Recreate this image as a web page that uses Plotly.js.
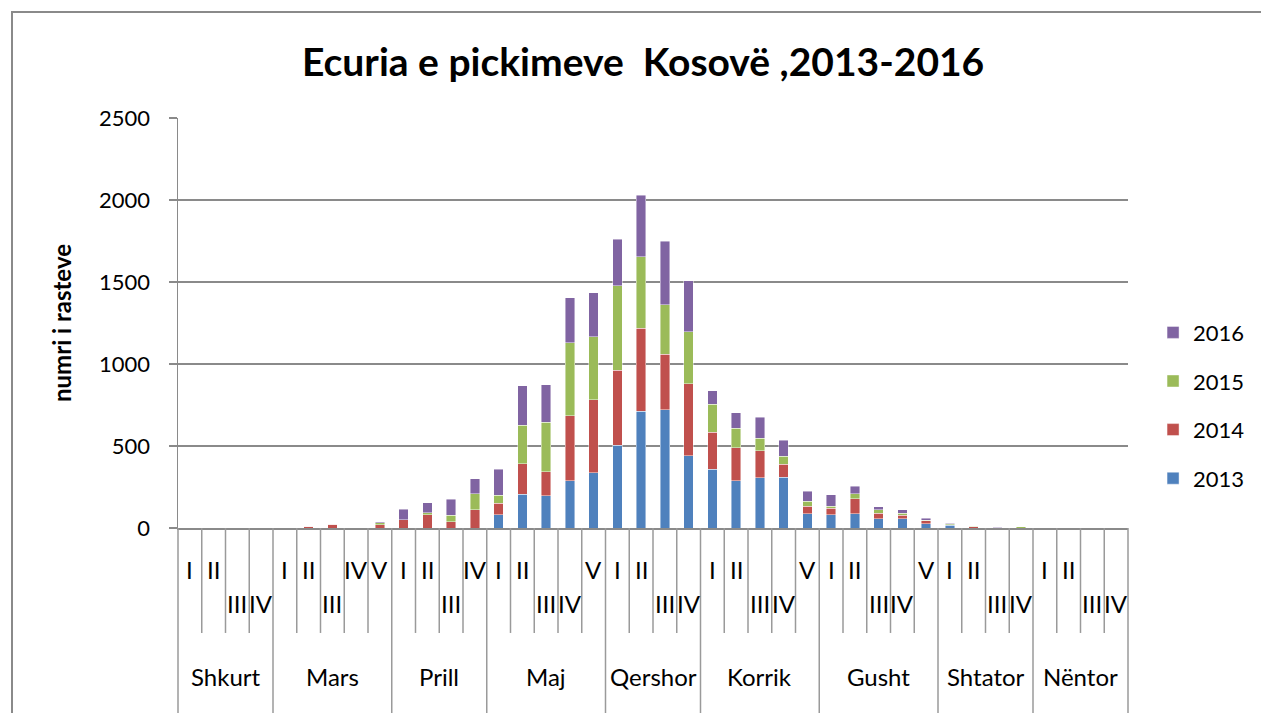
<!DOCTYPE html>
<html>
<head>
<meta charset="utf-8">
<script src="https://cdn.plot.ly/plotly-3.0.1.min.js"></script>
<style>
html,body{margin:0;padding:0;background:#fff;overflow:hidden;}
#wrap{position:relative;width:1261px;height:713px;overflow:hidden;}
#frame{position:absolute;left:11px;top:11px;width:1300px;height:800px;border:2px solid #8a8a8a;box-sizing:border-box;pointer-events:none;z-index:2;}
#chart{position:absolute;left:0;top:0;width:1261px;height:713px;}
</style>
</head>
<body>
<div id="wrap"><div id="chart"></div><div id="frame"></div></div>
<script>
// ---- data ----
const months = ['Shkurt','Mars','Prill','Maj','Qershor','Korrik','Gusht','Shtator','Nëntor'];
const monthOf = [
  'Shkurt','Shkurt','Shkurt','Shkurt',
  'Mars','Mars','Mars','Mars','Mars',
  'Prill','Prill','Prill','Prill',
  'Maj','Maj','Maj','Maj','Maj',
  'Qershor','Qershor','Qershor','Qershor',
  'Korrik','Korrik','Korrik','Korrik','Korrik',
  'Gusht','Gusht','Gusht','Gusht','Gusht',
  'Shtator','Shtator','Shtator','Shtator',
  'Nëntor','Nëntor','Nëntor','Nëntor'];
const weeks = [
  'I','II','III','IV',
  'I','II','III','IV','V',
  'I','II','III','IV',
  'I','II','III','IV','V',
  'I','II','III','IV',
  'I','II','III','IV','V',
  'I','II','III','IV','V',
  'I','II','III','IV',
  'I','II','III','IV'];
const y2013 = [0,0,0,0, 0,0,0,0,0, 0,0,0,0, 82,206,198,289,338, 505,713,721,440, 359,287,305,309,87, 81,87,57,57,26, 18,0,0,0, 0,0,0,0];
const y2014 = [0,0,0,0, 0,10,22,0,20, 51,82,37,110, 69,185,144,396,445, 457,504,339,440, 226,203,165,79,47, 39,92,32,20,18, 2,8,0,0, 0,0,0,0];
const y2015 = [0,0,0,0, 1,0,0,0,12, 0,10,40,100, 49,237,302,444,383, 516,438,301,316, 171,118,77,51,29, 12,30,23,14,3, 5,2,2,8, 0,0,0,0];
const y2016 = [0,0,0,2, 2,2,4,2,6, 63,63,98,90, 159,238,228,275,269, 283,375,386,312, 82,95,128,96,61, 71,45,18,21,12, 3,3,2,0, 0,0,0,0];
const seriesNames = ['2013','2014','2015','2016'];
const seriesValues = [y2013, y2014, y2015, y2016];

// ---- styling ----
const colors = ['#4F81BD','#C0504D','#9BBB59','#8064A2'];
const lowerRow = [0,0,1,1, 0,0,1,0,0, 0,0,1,0, 0,0,1,1,0, 0,0,1,1, 0,0,1,1,0, 0,0,1,1,0, 0,0,1,1, 0,0,1,1];
const FONT = 'Lato, "Open Sans", sans-serif';
const n = weeks.length;
const xIdx = weeks.map((_, i) => i);
const xr = [-0.5, n - 0.5];
const toPaper = v => (v - xr[0]) / (xr[1] - xr[0]);

const traces = seriesNames.map((nm, k) => ({
  type: 'bar', name: nm, x: xIdx, y: seriesValues[k],
  legendgroup: nm, legendrank: seriesNames.length - k,
  marker: {color: colors[k], line: {color: 'rgba(255,255,255,0.55)', width: 0.8}},
  hoverinfo: 'x+y+name'
}));

const annotations = [];
weeks.forEach((w, i) => {
  annotations.push({
    x: i, xref: 'x', y: lowerRow[i] ? -0.183 : -0.102, yref: 'paper',
    text: w, showarrow: false, xanchor: 'center', yanchor: 'middle',
    font: {family: FONT, size: 24, color: '#000'}
  });
});
const shapes = [];
const lineStyle = {color: '#9a9a9a', width: 1.5};
for (let b = 0; b <= n; b++) {
  const isMonthEdge = b === 0 || b === n || monthOf[b] !== monthOf[b - 1];
  const xp = toPaper(b - 0.5);
  shapes.push({type: 'line', xref: 'paper', yref: 'paper', x0: xp, x1: xp,
    y0: 0, y1: isMonthEdge ? -0.5 : -0.256, line: lineStyle});
}
months.forEach(m => {
  const idx = monthOf.map((mm, i) => mm === m ? i : -1).filter(i => i >= 0);
  const c = (idx[0] + idx[idx.length - 1]) / 2;
  annotations.push({
    x: c, xref: 'x', y: -0.361, yref: 'paper', text: m, showarrow: false,
    xanchor: 'center', yanchor: 'middle',
    font: {family: FONT, size: 24, color: '#000'}
  });
});

const layout = {
  width: 1261, height: 713,
  margin: {l: 178, r: 133, t: 118, b: 185, autoexpand: false},
  paper_bgcolor: 'rgba(0,0,0,0)', plot_bgcolor: '#fff',
  barmode: 'stack', bargap: 0.6,
  font: {family: FONT, color: '#000'},
  title: {text: '<b>Ecuria e pickimeve  Kosovë ,2013-2016</b>',
    font: {family: FONT, size: 39, color: '#000'},
    x: 0.51, xanchor: 'center', y: 0.912, yanchor: 'middle'},
  xaxis: {range: xr, showticklabels: false, ticks: '', showgrid: false,
    zeroline: false, showline: true, linecolor: '#8a8a8a', linewidth: 2, fixedrange: true},
  yaxis: {range: [0, 2500], dtick: 500, tick0: 0, showgrid: true,
    gridcolor: '#8a8a8a', gridwidth: 1.5, zeroline: false,
    showline: true, linecolor: '#8a8a8a', linewidth: 1.5,
    ticks: 'outside', ticklen: 8, tickcolor: '#8a8a8a', tickwidth: 1.5,
    ticklabelstandoff: 14,
    tickfont: {family: FONT, size: 22, color: '#000'},
    title: {text: '<b>numri i rasteve</b>', font: {family: FONT, size: 24, color: '#000'}, standoff: 20}},
  showlegend: true,
  legend: {xref: 'container', yref: 'container', x: 0.9144, xanchor: 'left', y: 0.563, yanchor: 'top',
    traceorder: 'grouped', tracegroupgap: 17,
    font: {family: FONT, size: 22, color: '#000'}, bgcolor: 'rgba(0,0,0,0)'},
  annotations: annotations,
  shapes: shapes
};

Plotly.newPlot('chart', traces, layout, {displayModeBar: false, staticPlot: true});
</script>
</body>
</html>
